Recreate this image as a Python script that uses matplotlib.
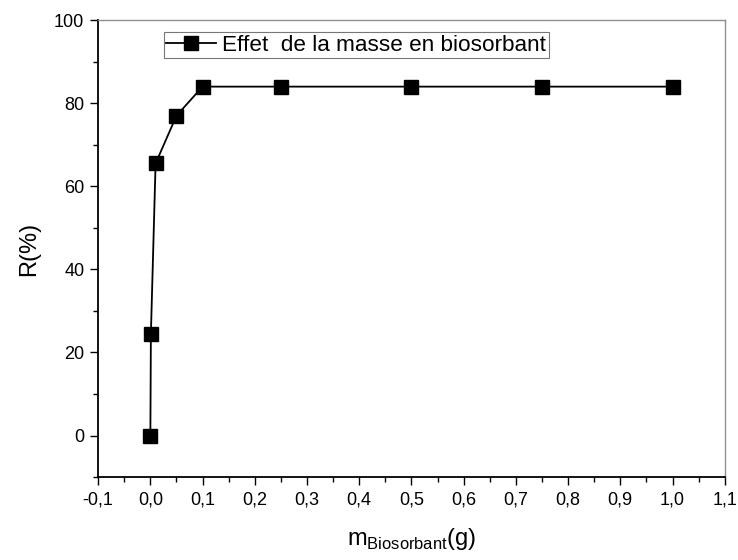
import matplotlib
matplotlib.use("Agg")
import matplotlib.pyplot as plt
from matplotlib.ticker import MultipleLocator, FuncFormatter

plt.rcParams['font.family'] = ['Liberation Sans', 'DejaVu Sans']
plt.rcParams['mathtext.fontset'] = 'custom'
plt.rcParams['mathtext.rm'] = 'Liberation Sans'

# Masse de biosorbant (g) et rendement d'élimination R (%)
masse = [0.0, 0.001, 0.01, 0.05, 0.1, 0.25, 0.5, 0.75, 1.0]
rendement = [0.0, 24.5, 65.5, 77.0, 84.0, 84.0, 84.0, 84.0, 84.0]
label_serie = "Effet  de la masse en biosorbant"

fig = plt.figure(figsize=(7.38, 5.6), dpi=100)
ax = fig.add_axes([0.133, 0.148, 0.849, 0.816])

ax.plot(masse, rendement, color='black', lw=1.3, marker='s', markersize=10,
        markerfacecolor='black', markeredgecolor='black', label=label_serie)

ax.set_xlim(-0.1, 1.1)
ax.set_ylim(-10, 100)
ax.xaxis.set_major_locator(MultipleLocator(0.1))
ax.xaxis.set_minor_locator(MultipleLocator(0.05))
ax.yaxis.set_major_locator(MultipleLocator(20))
ax.yaxis.set_minor_locator(MultipleLocator(10))
ax.xaxis.set_major_formatter(FuncFormatter(lambda v, p: f"{v:.1f}".replace('.', ',').replace('-0,0', '0,0')))
ax.yaxis.set_major_formatter(FuncFormatter(lambda v, p: f"{v:.0f}"))

ax.tick_params(which='both', direction='out', top=False, right=False,
               labelsize=13, width=1.0, color='black')
ax.tick_params(which='major', length=6, pad=4)
ax.tick_params(which='minor', length=3.5)

for s in ('left', 'bottom'):
    ax.spines[s].set_linewidth(1.3)
    ax.spines[s].set_color('black')
for s in ('top', 'right'):
    ax.spines[s].set_linewidth(1.0)
    ax.spines[s].set_color('#909090')

ax.set_ylabel('R(%)', fontsize=17, labelpad=10)
ax.set_xlabel(r'm$_{\mathregular{Biosorbant}}$(g)', fontsize=17, labelpad=13)

leg = ax.legend(loc='upper left', bbox_to_anchor=(0.105, 0.973), fontsize=16.2,
                frameon=True, fancybox=False, borderpad=0.1, handlelength=2.2,
                handletextpad=0.3, borderaxespad=0)
leg.get_frame().set_edgecolor('#555555')
leg.get_frame().set_linewidth(0.8)

fig.savefig('out.png', dpi=100)
